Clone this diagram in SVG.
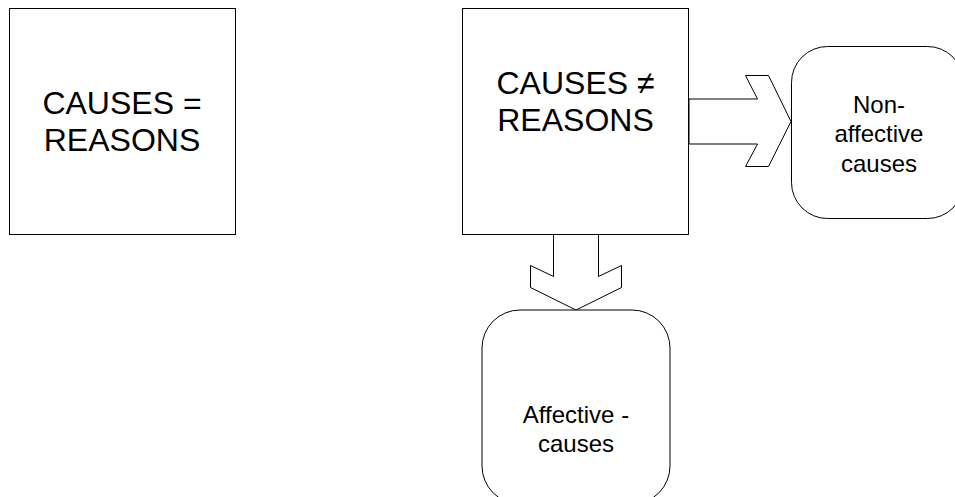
<svg xmlns="http://www.w3.org/2000/svg" width="955" height="497" viewBox="0 0 955 497">
<style>
.box{fill:#fff;stroke:#000;stroke-width:1}
.arrow{fill:#fff;stroke:#000;stroke-width:1;stroke-linejoin:miter}
.big{font-family:"Liberation Sans",Arial,sans-serif;font-size:32px;fill:#000;text-anchor:middle}
.small{font-family:"Liberation Sans",Arial,sans-serif;font-size:24px;fill:#000;text-anchor:middle}
</style>
<rect width="955" height="497" fill="#fff"/>
<g id="connectors">
<polygon class="arrow" points="689,99 757.5,99 745.5,75.5 768.5,75.5 791,121.5 768.5,166.5 745.5,166.5 757.5,144 689,144"/>
<polygon class="arrow" points="553.5,234.5 553.5,276.5 530.5,265.5 530.5,287.5 576,310 621.5,287.5 621.5,265.5 598.5,276.5 598.5,234.5"/>
</g>
<g id="node-causes-equal">
<rect class="box" x="9.5" y="8.5" width="226" height="226"/>
<text class="big" x="122" y="114">CAUSES =</text>
<text class="big" x="122" y="151">REASONS</text>
</g>
<g id="node-causes-notequal">
<rect class="box" x="462.5" y="8.5" width="226" height="226"/>
<text class="big" x="575.5" y="94">CAUSES ≠</text>
<text class="big" x="575.5" y="131">REASONS</text>
</g>
<g id="node-nonaffective">
<rect class="box" x="791.5" y="46.5" width="172" height="172" rx="36" ry="36"/>
<text class="small" x="879" y="113">Non-</text>
<text class="small" x="879" y="142">affective</text>
<text class="small" x="879" y="172">causes</text>
</g>
<g id="node-affective">
<rect class="box" x="482" y="310" width="188" height="194" rx="38" ry="38"/>
<text class="small" x="576" y="423">Affective -</text>
<text class="small" x="576" y="452">causes</text>
</g>
</svg>
